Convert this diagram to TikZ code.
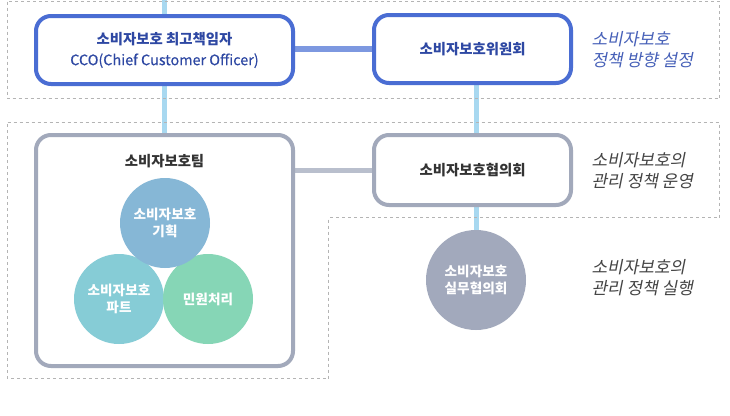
\documentclass[tikz,border=0pt]{standalone}
\usepackage{fontspec}
\setmainfont{Noto Sans CJK KR}
\newfontfamily\krit{Noto Sans CJK KR}[FakeSlant=0.2]
\newfontfamily\krmed{Noto Sans CJK KR}[FakeBold=0.4]
\usetikzlibrary{backgrounds,shadows}
\definecolor{bluebd}{HTML}{4A6DD3}
\definecolor{bluetx}{HTML}{2E48A3}
\definecolor{greybd}{HTML}{A2A9BB}
\definecolor{linkblue}{HTML}{7D98E0}
\definecolor{linkgrey}{HTML}{B9BFCD}
\definecolor{lightblue}{HTML}{A8D8F0}
\definecolor{dashc}{HTML}{B4B4B4}
\definecolor{rblue}{HTML}{4660B8}
\definecolor{rgrey}{HTML}{444444}
\definecolor{cplan}{HTML}{86B7D6}
\definecolor{cpart}{HTML}{86CCD6}
\definecolor{ccomp}{HTML}{86D6B6}
\definecolor{csil}{HTML}{A2A9BC}
\tikzset{
  zone/.style={draw=dashc, line width=1pt, dash pattern=on 3pt off 3pt},
  box/.style={rectangle, rounded corners=15pt, fill=white, line width=4pt, inner sep=0pt,
    align=center, font=\bfseries\fontsize{14.4}{21}\selectfont,
    drop shadow={opacity=0.12, shadow xshift=1.5pt, shadow yshift=-1.5pt}},
  bluebox/.style={box, draw=bluebd, text=bluetx},
  greybox/.style={box, draw=greybd, text=black!80},
  circ/.style={circle, inner sep=0pt, minimum size=90pt, text=white, align=center,
    font=\bfseries\fontsize{13.6}{17}\selectfont},
  note/.style={anchor=west, align=left, font=\krit\fontsize{17}{21}\selectfont}
}
\begin{document}
\begin{tikzpicture}[x=1pt,y=-1pt]
\useasboundingbox (0,0) rectangle (730,415);
% zones
\draw[zone] (7.5,1.5) rectangle (719.5,98.5);
\draw[zone] (7.5,122.5) -- (719.5,122.5) -- (719.5,217.5) -- (328.5,217.5) -- (328.5,378.5) -- (7.5,378.5) -- cycle;
% boxes
\node[bluebox, minimum width=257pt, minimum height=68pt] (cco) at (164.5,50) {소비자보호 최고책임자\\{\krmed\mdseries CCO(Chief Customer Officer)}};
\node[bluebox, minimum width=197pt, minimum height=68pt] (wiwon) at (472.5,49) {소비자보호위원회};
\node[greybox, minimum width=257pt, minimum height=231pt] (team) at (164.5,250.5) {};
\node[greybox, minimum width=197pt, minimum height=70pt] (hyup) at (472.5,170) {소비자보호협의회};
\node[font=\bfseries\fontsize{14.4}{17}\selectfont, text=black!80] (teamtitle) at (164.5,161) {소비자보호팀};
% circles
\node[circ, fill=cpart] (part) at (119,299) {소비자보호\\파트};
\node[circ, fill=ccomp] (comp) at (208,299) {민원처리};
\node[circ, fill=cplan] (plan) at (165,223) {소비자보호\\기획};
\node[circ, fill=csil, minimum size=100pt] (sil) at (476,280) {소비자보호\\실무협의회};
% notes
\node[note, text=rblue] (n1) at (588,50) {소비자보호\\정책 방향 설정};
\node[note, text=rgrey] (n2) at (588,171) {소비자보호의\\관리 정책 운영};
\node[note, text=rgrey] (n3) at (588,278) {소비자보호의\\관리 정책 실행};
\coordinate (top) at (164.5,0);
% connectors
\begin{scope}[on background layer]
\fill[white] (0,0) rectangle (730,415);
\draw[lightblue, line width=5pt] (top) -- (team.north);
\draw[lightblue, line width=5pt] (sil) -- (sil |- wiwon.south);
\draw[linkblue, line width=6pt] (cco.east |- wiwon) -- (wiwon);
\draw[linkgrey, line width=5pt] (team.east |- hyup) -- (hyup);
\end{scope}
\end{tikzpicture}
\end{document}
